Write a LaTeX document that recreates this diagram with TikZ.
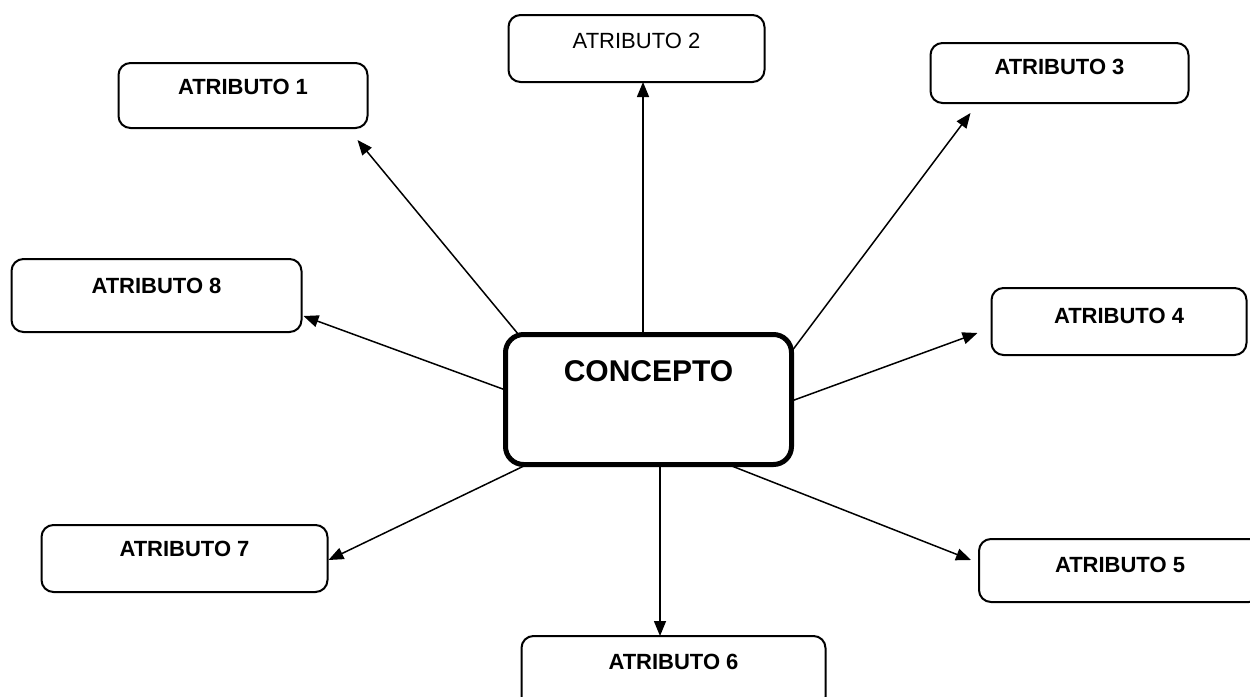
\documentclass[tikz,border=0pt]{standalone}
\usepackage{fontspec}
\setmainfont{Liberation Sans}
\usetikzlibrary{arrows.meta,calc}

\tikzset{
  box/.style={draw, line width=2pt, rounded corners=12pt, fill=white,
    inner sep=0pt, outer sep=0pt, anchor=north, align=center,
    font=\fontsize{22pt}{26pt}\selectfont\bfseries},
  plainbox/.style={box, font=\fontsize{22pt}{26pt}\selectfont},
  mainbox/.style={draw, line width=5pt, rounded corners=18pt, fill=white,
    inner sep=0pt, outer sep=0pt, anchor=north, align=center,
    font=\fontsize{30pt}{34pt}\selectfont\bfseries},
  arr/.style={line width=1.5pt, -{Triangle[length=15pt,width=12pt]}}
}

\begin{document}
\begin{tikzpicture}[x=1pt, y=-1pt]
  \useasboundingbox (0,0) rectangle (1250,696);
  \clip (0,0) rectangle (1250,696);
  \fill[white] (0,0) rectangle (1250,696);

  % central concept
  \node[mainbox, minimum width=286pt, text height=46.5pt, text depth=83.5pt]
    (concept) at (648.5,334.5) {CONCEPTO};

  % attributes around it
  \node[box, minimum width=249pt, text height=31pt, text depth=34pt]
    (a1) at (243,63) {ATRIBUTO 1};
  \node[plainbox, minimum width=256pt, text height=33pt, text depth=34pt]
    (a2) at (636.5,15) {ATRIBUTO 2};
  \node[box, minimum width=258pt, text height=31pt, text depth=29pt]
    (a3) at (1059.5,43) {ATRIBUTO 3};
  \node[box, minimum width=255pt, text height=35pt, text depth=32pt]
    (a4) at (1119,288) {ATRIBUTO 4};
  \node[box, minimum width=282pt, text height=33pt, text depth=30pt]
    (a5) at (1120,539) {ATRIBUTO 5};
  \node[box, minimum width=304pt, text height=33pt, text depth=40pt]
    (a6) at (673.5,636) {ATRIBUTO 6};
  \node[box, minimum width=286pt, text height=31pt, text depth=36pt]
    (a7) at (184.5,525) {ATRIBUTO 7};
  \node[box, minimum width=290pt, text height=34pt, text depth=39pt]
    (a8) at (156.5,259) {ATRIBUTO 8};

  % connector end points
  \coordinate (s1) at ($(concept.north west)+(13,0)$);
  \coordinate (t1) at ($(a1.south east)+(-10,12)$);
  \coordinate (s2) at ($(concept.north)+(-5.5,0)$);
  \coordinate (s3) at ($(concept.north east)+(0,17)$);
  \coordinate (t3) at ($(a3.south west)+(40,10)$);
  \coordinate (s4) at ($(concept.east)+(0,1.5)$);
  \coordinate (t4) at ($(a4.west)+(-14,11.5)$);
  \coordinate (s5) at ($(concept.south)+(79.5,0)$);
  \coordinate (t5) at ($(a5.west)+(-8,-10.5)$);
  \coordinate (s6) at ($(concept.south)+(11.5,0)$);
  \coordinate (s7) at ($(concept.south west)+(21.5,0)$);
  \coordinate (t7) at ($(a7.east)+(1,1.5)$);
  \coordinate (s8) at ($(concept.west)+(0,-9.5)$);
  \coordinate (t8) at ($(a8.east)+(2,20.5)$);

  % connectors
  \draw[arr] (s1) -- (t1);
  \draw[arr] (s2) -- (s2 |- a2.south);
  \draw[arr] (s3) -- (t3);
  \draw[arr] (s4) -- (t4);
  \draw[arr] (s5) -- (t5);
  \draw[arr] (s6) -- (s6 |- a6.north);
  \draw[arr] (s7) -- (t7);
  \draw[arr] (s8) -- (t8);
\end{tikzpicture}
\end{document}
